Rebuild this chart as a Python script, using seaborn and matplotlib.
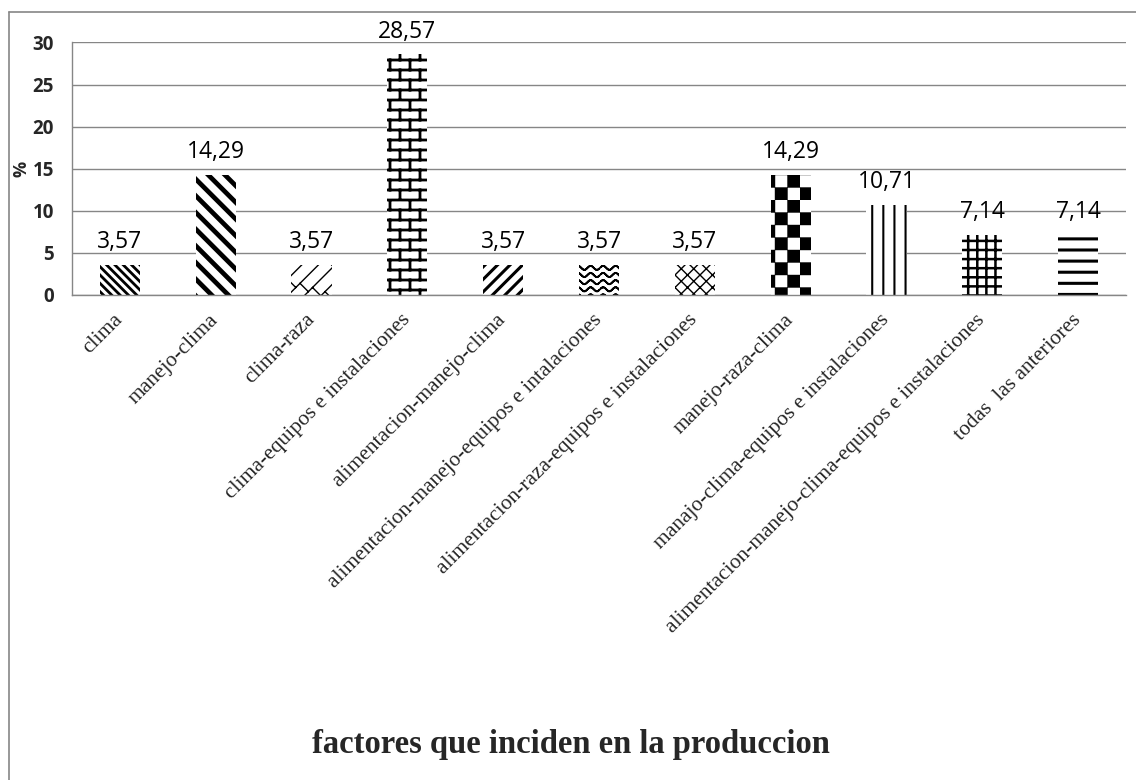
"""
Bar chart: factores que inciden en la produccion (% of answers),
each bar filled with its own black/white pattern.
"""

import warnings

import numpy as np
import matplotlib
matplotlib.use("Agg")
import matplotlib.pyplot as plt
import matplotlib.hatch as mhatch
from matplotlib.lines import Line2D
from matplotlib.path import Path
import seaborn as sns

warnings.filterwarnings("ignore")

CATEGORIES = [
    "clima",
    "manejo-clima",
    "clima-raza",
    "clima-equipos e instalaciones",
    "alimentacion-manejo-clima",
    "alimentacion-manejo-equipos e intalaciones",
    "alimentacion-raza-equipos e instalaciones",
    "manejo-raza-clima",
    "manajo-clima-equipos e instalaciones",
    "alimentacion-manejo-clima-equipos e instalaciones",
    "todas  las anteriores",
]
PERCENT = [3.57, 14.29, 3.57, 28.57, 3.57, 3.57, 3.57, 14.29, 10.71, 7.14, 7.14]
VALUE_LABELS = ["3,57", "14,29", "3,57", "28,57", "3,57", "3,57",
                "3,57", "14,29", "10,71", "7,14", "7,14"]
Y_TICKS = [0, 5, 10, 15, 20, 25, 30]
Y_LABEL = "%"
X_TITLE = "factores que inciden en la produccion"

# pattern letter per bar (see PATTERN_SHAPES) and hatch line width in pt
PATTERNS = ["A", "D", "S", "B", "E", "W", "K", "C", "V", "G", "H"]
PATTERN_LW = [2.0, 3.4, 1.0, 2.0, 2.2, 1.3, 1.0, 0.3, 1.5, 1.8, 2.2]

GRAY = "#868686"


# ── Excel-like fill patterns (unit cell = 1 inch) ───────────────────────────

def _diag(n, up=True):
    segs = []
    for k in range(-2 * n, 2 * n + 1):
        c = k / n
        if up:
            segs.append(((-1.0, c - 1.0), (2.0, c + 2.0)))
        else:
            segs.append(((-1.0, c + 1.0), (2.0, c - 2.0)))
    return segs, []


def _shingle(n=6, m=4):
    segs, _ = _diag(n, up=True)
    for k in range(-2 * n, 2 * n):
        c = k / n
        for j in range(-2 * m, 2 * m):
            x0 = j / m + (0.5 / m if k % 2 else 0.0)
            segs.append(((x0, x0 + c + 1 / n), (x0 + 0.5 / n, x0 + c + 0.5 / n)))
    return segs, []


def _brick(rows=10, cols=5):
    segs = [((0.0, j / rows), (1.0, j / rows)) for j in range(rows + 1)]
    for j in range(rows):
        shift = 0.5 / cols if j % 2 else 0.0
        for i in range(cols + 1):
            x = i / cols + shift
            segs.append(((x, j / rows), (x, (j + 1) / rows)))
    return segs, []


def _wave(rows=14, periods=8, amp=0.02):
    segs = []
    xs = np.linspace(0, 1, periods * 10 + 1)
    for j in range(rows):
        ys = (j + 0.5) / rows + amp * np.sin(2 * np.pi * periods * xs)
        for a in range(len(xs) - 1):
            segs.append(((xs[a], ys[a]), (xs[a + 1], ys[a + 1])))
    return segs, []


def _diamond(n=8):
    up, _ = _diag(n, up=True)
    down, _ = _diag(n, up=False)
    return up + down, []


def _checker(n=8):
    squares = [(i / n, j / n, 1 / n) for i in range(n) for j in range(n)
               if (i + j) % 2 == 0]
    return [], squares


def _vertical(n=9):
    return [(((i + 0.5) / n, 0.0), ((i + 0.5) / n, 1.0)) for i in range(n)], []


def _horizontal(n=9):
    return [((0.0, (i + 0.5) / n), (1.0, (i + 0.5) / n)) for i in range(n)], []


def _grid(n=11):
    return _vertical(n)[0] + _horizontal(n)[0], []


PATTERN_SHAPES = {
    "A": lambda: _diag(12, up=False),
    "D": lambda: _diag(6, up=False),
    "E": lambda: _diag(8, up=True),
    "S": _shingle,
    "B": _brick,
    "W": _wave,
    "K": _diamond,
    "C": _checker,
    "V": _vertical,
    "G": _grid,
    "H": _horizontal,
}


class ExcelPattern(mhatch.HatchPatternBase):
    def __init__(self, hatch, density):
        key = next((c for c in hatch if c in PATTERN_SHAPES), None)
        self.segs, self.squares = PATTERN_SHAPES[key]() if key else ([], [])
        self.num_vertices = 2 * len(self.segs) + 5 * len(self.squares)

    def set_vertices_and_codes(self, vertices, codes):
        i = 0
        for p0, p1 in self.segs:
            vertices[i] = p0
            vertices[i + 1] = p1
            codes[i] = Path.MOVETO
            codes[i + 1] = Path.LINETO
            i += 2
        for x, y, s in self.squares:
            vertices[i:i + 5] = [(x, y), (x + s, y), (x + s, y + s), (x, y + s), (x, y)]
            codes[i:i + 5] = [Path.MOVETO, Path.LINETO, Path.LINETO,
                              Path.LINETO, Path.CLOSEPOLY]
            i += 5


mhatch._hatch_types.append(ExcelPattern)


# ── Figure ──────────────────────────────────────────────────────────────────

sns.set_style("white")
plt.rcParams["font.family"] = ["Open Sans", "DejaVu Sans"]

fig, ax = plt.subplots(figsize=(11.36, 7.8), dpi=100)
fig.subplots_adjust(left=72 / 1136, right=1126 / 1136,
                    bottom=1 - 295 / 780, top=1 - 42 / 780)

sns.barplot(x=CATEGORIES, y=PERCENT, color="white", saturation=1,
            width=0.42, ax=ax)

for bar, pat, lw in zip(ax.containers[0], PATTERNS, PATTERN_LW):
    bar.set_facecolor("white")
    bar.set_edgecolor("black")   # hatch colour follows edge colour
    bar.set_linewidth(0)
    bar.set_hatch(pat)
    if hasattr(bar, "set_hatch_linewidth"):
        bar.set_hatch_linewidth(lw)

for i, (v, lab) in enumerate(zip(PERCENT, VALUE_LABELS)):
    ax.annotate(lab, (i, v), xytext=(0, 12), textcoords="offset points",
                ha="center", va="baseline", fontsize=16.5, color="black")

ax.set_xlim(-0.5, len(CATEGORIES) - 0.5)
ax.set_ylim(0, 30.05)
ax.set_yticks(Y_TICKS)
ax.yaxis.grid(True, color=GRAY, linewidth=1.0)
ax.set_axisbelow(True)
for side in ["top", "right"]:
    ax.spines[side].set_visible(False)
for side in ["left", "bottom"]:
    ax.spines[side].set_color(GRAY)
    ax.spines[side].set_linewidth(1.0)

ax.tick_params(axis="y", length=4, color=GRAY, width=1.0, pad=9, labelsize=13.5)
for lbl in ax.get_yticklabels():
    lbl.set_fontweight("bold")

ax.set_xticks(range(len(CATEGORIES)))
ax.set_xticklabels(CATEGORIES, rotation=45, ha="right", va="center",
                   rotation_mode="anchor", fontfamily="Liberation Serif",
                   fontsize=15.5)
ax.tick_params(axis="x", which="major", length=0, pad=16)
ax.set_xticks(np.arange(-0.5, len(CATEGORIES), 1), minor=True)
ax.tick_params(axis="x", which="minor", length=5, color=GRAY, width=1.0)

ax.set_xlabel("")
ax.set_ylabel(Y_LABEL, fontweight="bold", fontsize=13)
ax.yaxis.set_label_coords(-0.039, 0.5)

fig.text(0.5026, 0.045, X_TITLE, ha="center", va="center", fontsize=23.5,
         fontweight="bold", family="Liberation Serif")

# outer chart-area border (left and top edges visible)
fig.add_artist(Line2D([9 / 1136, 9 / 1136], [0, 1 - 12 / 780],
                      transform=fig.transFigure, color=GRAY, lw=1.2))
fig.add_artist(Line2D([9 / 1136, 1], [1 - 12 / 780, 1 - 12 / 780],
                      transform=fig.transFigure, color=GRAY, lw=1.2))

fig.savefig("out.png", dpi=100)
